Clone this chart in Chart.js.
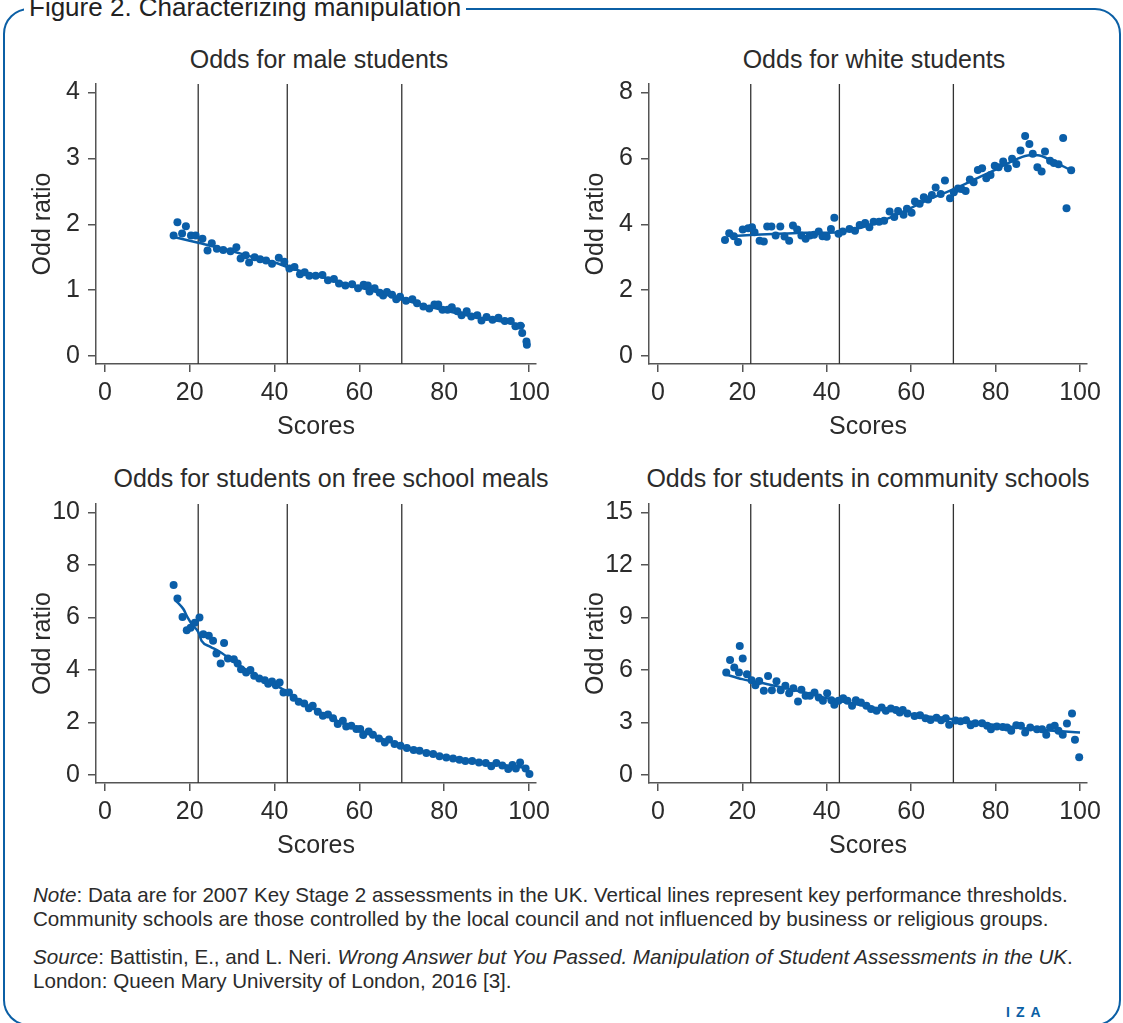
<!DOCTYPE html>
<html>
<head>
<meta charset="utf-8">
<script src="https://cdn.jsdelivr.net/npm/chart.js@4.4.1/dist/chart.umd.min.js"></script>
<style>
  body { margin: 0; width: 1123px; height: 1023px; overflow: hidden; position: relative; background: #fff;
         font-family: "Liberation Sans", Arial, sans-serif; color: #2b2b2b; }
  .frame { position: absolute; left: 3px; top: 8px; width: 1118px; height: 1018px; box-sizing: border-box;
           border: 2.5px solid #0b5fa5; border-radius: 26px; }
  .fig-title { position: absolute; left: 24px; top: -6px; padding: 0 5px; background: #fff;
               font-size: 26px; line-height: 26px; color: #222; white-space: nowrap; }
  .panel-title { position: absolute; width: 560px; margin-left: -280px; text-align: center;
                 font-size: 25px; line-height: 30px; color: #2b2b2b; white-space: nowrap; }
  canvas { position: absolute; }
  .note { position: absolute; left: 33px; font-size: 20.6px; line-height: 24px; color: #2b2b2b; white-space: nowrap; }
  .iza { position: absolute; left: 1006px; top: 1004px; font-size: 14px; font-weight: bold; letter-spacing: 6px; color: #0b5fa5; }
</style>
</head>
<body>
<div class="frame"></div>
<div class="fig-title">Figure 2. Characterizing manipulation</div>

<div class="panel-title" style="left:319px; top:44px">Odds for male students</div>
<div class="panel-title" style="left:874px; top:44px">Odds for white students</div>
<div class="panel-title" style="left:331px; top:463px">Odds for students on free school meals</div>
<div class="panel-title" style="left:868px; top:463px">Odds for students in community schools</div>

<canvas id="c1" width="538" height="393" style="left:20px; top:61px"></canvas>
<canvas id="c2" width="536" height="393" style="left:573px; top:61px"></canvas>
<canvas id="c3" width="538" height="392" style="left:20px; top:481px"></canvas>
<canvas id="c4" width="536" height="392" style="left:573px; top:481px"></canvas>

<div class="note" style="top:883px"><i>Note</i>: Data are for 2007 Key Stage 2 assessments in the UK. Vertical lines represent key performance thresholds.<br>Community schools are those controlled by the local council and not influenced by business or religious groups.</div>
<div class="note" style="top:945px"><i>Source</i>: Battistin, E., and L. Neri. <i>Wrong Answer but You Passed. Manipulation of Student Assessments in the UK</i>.<br>London: Queen Mary University of London, 2016 [3].</div>
<div class="iza">IZA</div>

<script>
"use strict";

const thresholds = [22, 43, 70];
const scoreTicks = [0, 20, 40, 60, 80, 100];

const maleScores = [16.2, 17.1, 18.2, 19.1, 20.3, 21.4, 23.0, 24.2, 25.2, 26.4, 27.9, 29.6, 31.0, 32.0, 33.2, 34.0, 35.3, 36.6, 38.0, 39.4,
  41.0, 42.3, 43.5, 44.7, 46.0, 47.1, 48.2, 49.7, 51.3, 52.6, 54.0, 55.2, 56.7, 58.3, 59.7, 61.0, 62.0, 62.4, 63.6, 64.8,
  65.6, 66.5, 67.7, 68.7, 69.6, 71.0, 72.5, 73.6, 75.1, 76.5, 77.7, 78.6, 79.6, 80.8, 81.8, 83.1, 84.1, 85.3, 86.4, 87.8,
  88.8, 90.0, 91.4, 92.8, 94.3, 95.7, 96.8, 98.0, 98.4, 99.4, 99.5];
const maleOdds = [1.83, 2.03, 1.86, 1.97, 1.83, 1.83, 1.78, 1.60, 1.71, 1.63, 1.61, 1.59, 1.65, 1.48, 1.53, 1.42, 1.50, 1.47, 1.45, 1.40,
  1.49, 1.43, 1.33, 1.35, 1.24, 1.27, 1.22, 1.22, 1.23, 1.15, 1.17, 1.10, 1.07, 1.09, 1.03, 1.08, 1.07, 0.98, 1.03, 0.96,
  0.92, 0.97, 0.93, 0.86, 0.90, 0.84, 0.86, 0.80, 0.75, 0.72, 0.78, 0.78, 0.70, 0.70, 0.74, 0.68, 0.62, 0.68, 0.60, 0.62,
  0.54, 0.59, 0.55, 0.58, 0.53, 0.53, 0.45, 0.46, 0.35, 0.22, 0.17];
const maleFitScores = [16, 22, 29, 35, 40, 43.5, 50, 56, 63, 70, 77, 83, 90, 95, 99];
const maleFitOdds = [1.81, 1.72, 1.61, 1.50, 1.42, 1.34, 1.22, 1.11, 0.99, 0.86, 0.74, 0.65, 0.56, 0.51, 0.46];
const maleTicks = [0, 1, 2, 3, 4];

const whiteScores = [15.9, 16.9, 18.0, 19.0, 20.1, 21.4, 22.3, 22.9, 24.1, 25.1, 25.9, 26.9, 27.9, 29.0, 30.0, 31.1, 32.0, 33.0, 34.0, 35.0,
  36.0, 37.0, 38.1, 39.0, 40.0, 41.0, 41.8, 42.8, 43.8, 45.4, 46.7, 47.8, 49.1, 50.1, 51.1, 52.4, 53.6, 54.9, 56.0, 56.9,
  58.2, 59.0, 60.1, 60.9, 62.0, 63.0, 64.0, 64.9, 65.8, 67.0, 68.0, 69.2, 70.1, 71.1, 71.9, 72.9, 73.9, 74.8, 75.8, 76.8,
  77.8, 78.8, 79.8, 80.7, 81.8, 82.9, 83.9, 84.9, 85.9, 87.0, 88.0, 88.8, 89.9, 90.9, 91.7, 92.9, 93.8, 94.9, 96.0, 96.8, 97.9];
const whiteOdds = [3.52, 3.73, 3.64, 3.46, 3.84, 3.88, 3.91, 3.76, 3.50, 3.48, 3.93, 3.93, 3.66, 3.93, 3.63, 3.50, 3.96, 3.84, 3.66, 3.56,
  3.66, 3.68, 3.78, 3.64, 3.62, 3.86, 4.20, 3.71, 3.78, 3.86, 3.80, 3.98, 4.04, 3.91, 4.08, 4.08, 4.11, 4.39, 4.22, 4.40,
  4.29, 4.47, 4.35, 4.69, 4.62, 4.82, 4.75, 4.89, 5.12, 4.92, 5.33, 4.79, 4.97, 5.09, 5.07, 5.01, 5.36, 5.28, 5.65, 5.70,
  5.40, 5.50, 5.78, 5.73, 5.91, 5.70, 5.99, 5.83, 6.24, 6.68, 6.44, 6.14, 5.73, 5.60, 6.21, 5.93, 5.86, 5.82, 6.62, 4.49, 5.64];
const whiteFitScores = [17, 23, 30, 35, 43, 47, 50, 55, 60, 65, 70, 75, 80, 85, 88, 90, 93, 98];
const whiteFitOdds = [3.64, 3.68, 3.72, 3.74, 3.76, 3.86, 3.97, 4.20, 4.50, 4.80, 5.06, 5.36, 5.66, 5.98, 6.10, 6.10, 5.95, 5.63];
const whiteTicks = [0, 2, 4, 6, 8];

const fsmScores = [16.2, 17.1, 18.3, 19.3, 20.2, 21.2, 22.3, 23.2, 24.5, 25.5, 26.3, 27.3, 28.1, 29.0, 30.4, 31.3, 32.1, 33.3, 34.3, 35.2,
  36.4, 37.7, 38.5, 39.4, 40.3, 41.2, 42.1, 43.4, 44.5, 45.7, 47.0, 48.1, 49.0, 50.2, 51.4, 52.6, 53.8, 54.9, 56.1, 56.9,
  58.1, 59.3, 60.2, 60.9, 62.2, 63.2, 64.6, 66.0, 67.0, 68.3, 69.7, 71.2, 72.8, 74.2, 75.8, 77.4, 78.9, 80.5, 82.1, 83.6,
  85.0, 86.6, 88.2, 89.8, 91.1, 92.3, 93.7, 95.1, 96.1, 96.9, 97.9, 99.2, 100.1];
const fsmOdds = [7.24, 6.72, 6.02, 5.51, 5.61, 5.80, 6.00, 5.36, 5.30, 5.11, 4.63, 4.25, 5.03, 4.44, 4.41, 4.25, 4.03, 3.90, 4.00, 3.78,
  3.68, 3.61, 3.48, 3.56, 3.42, 3.52, 3.14, 3.14, 2.94, 2.79, 2.72, 2.54, 2.64, 2.41, 2.26, 2.30, 2.16, 1.94, 2.07, 1.85,
  1.88, 1.75, 1.75, 1.52, 1.66, 1.53, 1.39, 1.24, 1.35, 1.18, 1.11, 1.03, 0.95, 0.92, 0.84, 0.80, 0.71, 0.67, 0.63, 0.58,
  0.53, 0.53, 0.48, 0.46, 0.33, 0.46, 0.36, 0.23, 0.38, 0.25, 0.48, 0.25, 0.04];
const fsmFitScores = [16.7, 18.5, 19.5, 20.5, 22, 22.8, 24.8, 26.7, 28.7, 30, 35, 40, 43, 45, 50, 55, 60, 65, 70, 75, 80, 85, 90, 95, 99];
const fsmFitOdds = [6.65, 6.32, 6.00, 5.74, 5.45, 5.11, 4.89, 4.73, 4.51, 4.35, 3.85, 3.45, 3.15, 2.92, 2.45, 2.05, 1.72, 1.40, 1.12, 0.90, 0.72, 0.58, 0.46, 0.36, 0.28];
const fsmTicks = [0, 2, 4, 6, 8, 10];

const commScores = [16.2, 17.1, 18.1, 19.2, 19.4, 20.1, 21.1, 22.2, 23.1, 24.0, 25.1, 26.1, 27.0, 28.1, 29.1, 30.2, 31.1, 32.1, 33.2, 34.0,
  35.0, 36.0, 37.1, 38.1, 39.1, 40.1, 41.1, 41.8, 42.8, 43.9, 44.9, 46.0, 46.9, 48.1, 49.4, 50.5, 51.8, 53.0, 54.0, 55.2,
  56.4, 57.3, 58.0, 59.1, 60.8, 62.1, 63.4, 64.6, 66.0, 67.1, 68.2, 69.0, 70.5, 71.7, 73.0, 74.1, 75.2, 76.8, 78.0, 78.9,
  80.3, 81.7, 82.7, 83.7, 84.9, 86.0, 87.0, 88.2, 89.8, 91.0, 92.0, 92.9, 94.0, 94.9, 95.9, 96.9, 98.1, 98.8, 99.8];
const commOdds = [5.86, 6.58, 6.14, 5.86, 7.38, 6.66, 5.76, 5.42, 5.13, 5.38, 4.81, 5.66, 4.85, 5.36, 4.85, 5.10, 4.68, 4.96, 4.20, 4.87,
  4.53, 4.53, 4.72, 4.43, 4.24, 4.68, 4.28, 4.01, 4.24, 4.39, 4.24, 3.96, 4.28, 4.15, 3.96, 3.77, 3.67, 3.86, 3.67, 3.80,
  3.72, 3.58, 3.72, 3.52, 3.38, 3.42, 3.24, 3.15, 3.28, 3.13, 3.24, 2.87, 3.11, 3.07, 3.13, 2.85, 2.96, 2.96, 2.81, 2.62,
  2.77, 2.75, 2.72, 2.53, 2.85, 2.81, 2.43, 2.72, 2.62, 2.62, 2.30, 2.72, 2.81, 2.53, 2.30, 2.94, 3.52, 2.01, 1.01];
const commFitScores = [16, 20, 26, 30, 35, 42, 50, 57, 63, 70, 78, 85, 92, 100];
const commFitOdds = [5.76, 5.48, 5.19, 4.98, 4.70, 4.28, 3.90, 3.62, 3.38, 3.19, 2.92, 2.72, 2.56, 2.43];
const commTicks = [0, 3, 6, 9, 12, 15];

const BLUE = "#0a5ea8";
const AXIS = "#555555";
const TEXT = "#2b2b2b";
const FONT = "\"Liberation Sans\", Arial, sans-serif";

Chart.defaults.font.family = FONT;
Chart.defaults.color = TEXT;

const thresholdPlugin = {
  id: "thresholds",
  beforeDatasetsDraw(chart) {
    const { ctx, chartArea, scales } = chart;
    ctx.save();
    ctx.strokeStyle = "#333";
    ctx.lineWidth = 1.3;
    thresholds.forEach((t) => {
      const x = scales.x.getPixelForValue(t);
      ctx.beginPath();
      ctx.moveTo(x, chartArea.top);
      ctx.lineTo(x, chartArea.bottom);
      ctx.stroke();
    });
    ctx.restore();
  },
};

function pairs(xs, ys) {
  return xs.map((x, i) => ({ x, y: ys[i] }));
}

function makePanel(id, p) {
  return new Chart(document.getElementById(id), {
    type: "scatter",
    data: {
      datasets: [
        { data: pairs(p.scores, p.odds), backgroundColor: BLUE, borderWidth: 0, pointRadius: 4, pointHoverRadius: 4 },
        { data: pairs(p.fitScores, p.fitOdds), showLine: true, borderColor: BLUE, borderWidth: 2.5, pointRadius: 0, cubicInterpolationMode: "monotone" },
      ],
    },
    options: {
      responsive: false,
      animation: false,
      events: [],
      // top padding equals the y-scale's own label padding (half label height + tick padding)
      layout: { padding: { top: 23, right: 22, left: 0, bottom: 0 } },
      plugins: { legend: { display: false }, tooltip: { enabled: false } },
      scales: {
        x: {
          type: "linear",
          min: -2.1,
          max: 101.65,
          afterBuildTicks: (s) => { s.ticks = scoreTicks.map((v) => ({ value: v })); },
          afterFit: (s) => { s.height = 90; },
          ticks: { color: TEXT, font: { size: 25 }, padding: 6, maxRotation: 0, autoSkip: false },
          grid: { drawOnChartArea: false, tickLength: 8, color: AXIS, lineWidth: 1.5 },
          border: { display: true, color: AXIS, width: 1.5 },
          title: { display: true, text: "Scores", color: TEXT, font: { size: 25 }, padding: { top: 0, bottom: 12 } },
        },
        y: {
          type: "linear",
          min: p.yMin,
          max: p.yMax,
          afterBuildTicks: (s) => { s.ticks = p.ticks.map((v) => ({ value: v })); },
          afterFit: (s) => { s.width = 76; },
          ticks: { color: TEXT, font: { size: 25 }, padding: 8, autoSkip: false },
          grid: { drawOnChartArea: false, tickLength: 8, color: AXIS, lineWidth: 1.5 },
          border: { display: true, color: AXIS, width: 1.5 },
          title: { display: true, text: "Odd ratio", color: TEXT, font: { size: 25 }, padding: { top: 8, bottom: 0 } },
        },
      },
    },
    plugins: [thresholdPlugin],
  });
}

makePanel("c1", { scores: maleScores, odds: maleOdds, fitScores: maleFitScores, fitOdds: maleFitOdds, ticks: maleTicks, yMin: -0.122, yMax: 4.13 });
makePanel("c2", { scores: whiteScores, odds: whiteOdds, fitScores: whiteFitScores, fitOdds: whiteFitOdds, ticks: whiteTicks, yMin: -0.243, yMax: 8.26 });
makePanel("c3", { scores: fsmScores, odds: fsmOdds, fitScores: fsmFitScores, fitOdds: fsmFitOdds, ticks: fsmTicks, yMin: -0.304, yMax: 10.32 });
makePanel("c4", { scores: commScores, odds: commOdds, fitScores: commFitScores, fitOdds: commFitOdds, ticks: commTicks, yMin: -0.456, yMax: 15.49 });
</script>
</body>
</html>
